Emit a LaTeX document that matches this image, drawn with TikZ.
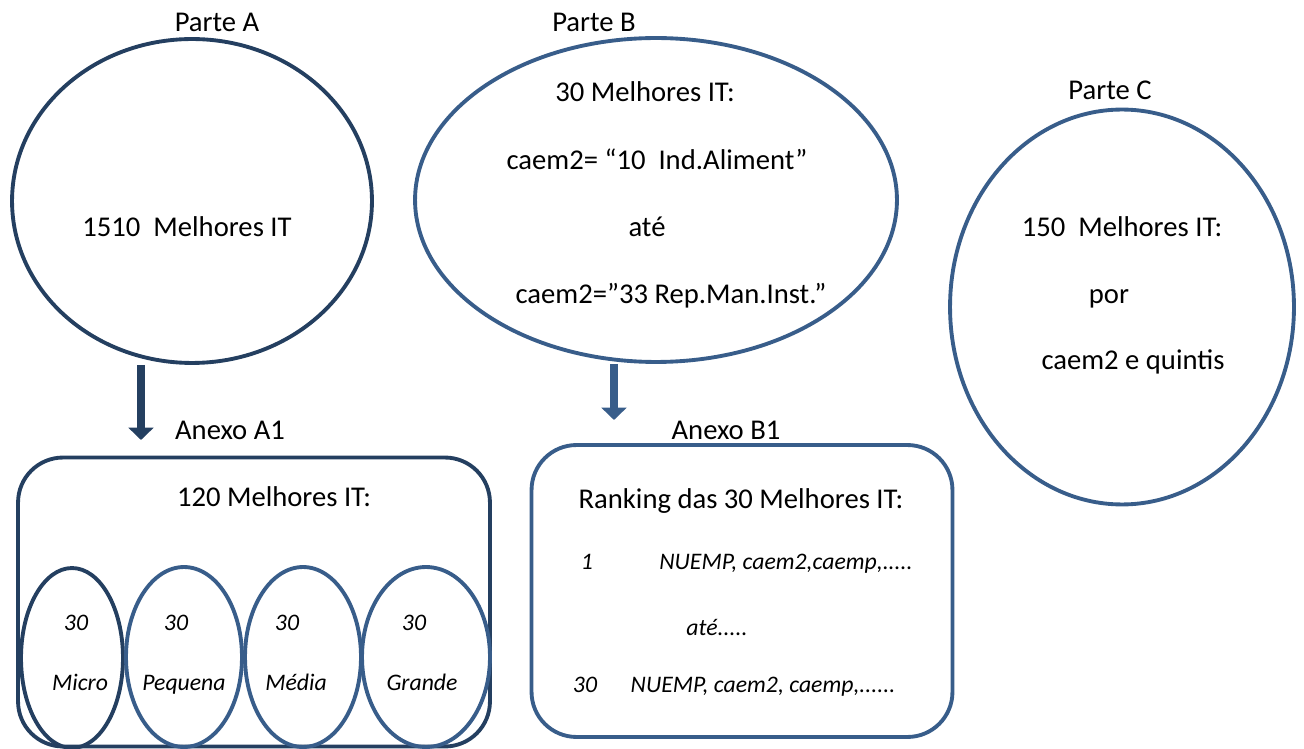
\documentclass[tikz,border=0pt]{standalone}
\usepackage{fontspec}
\setmainfont{Carlito}
\usetikzlibrary{positioning, shapes.geometric, arrows.meta}

\definecolor{navy}{HTML}{243F60}
\definecolor{steel}{HTML}{385D8A}

\tikzset{
	oval/.style={draw=steel, line width=2.2pt, ellipse, inner sep=0pt},
	panel/.style={draw=steel, line width=2.2pt, rectangle, rounded corners=0.9cm, inner sep=0pt},
	bigtxt/.style={font=\fontsize{16.3}{19}\selectfont, inner sep=0pt, text height=11pt, text depth=0pt},
	smalltxt/.style={font=\fontsize{13.5}{16}\selectfont\itshape, inner sep=0pt, text height=9pt, text depth=0pt},
	downarrow/.style={line width=5pt, -{Triangle[width=14pt,length=7pt]}},
}

\begin{document}
\begin{tikzpicture}[x=0.02cm, y=-0.02cm]
		\useasboundingbox (0,0) rectangle (1304,749);

		% Parte A
		\node[oval, draw=navy, minimum width=7.2cm, minimum height=6.48cm] (partA) at (192,201) {};
		\node[bigtxt] (partAlbl) at (217,22) {Parte A};
		\node[bigtxt] (best1510) at (187,227) {1510~ Melhores IT};

		% Parte B
		\node[oval, minimum width=9.64cm, minimum height=6.48cm] (partB) at (656,200) {};
		\node[bigtxt] (partBlbl) at (594,22) {Parte B};
		\node[bigtxt] (best30) at (645,92) {30 Melhores IT:};
		\node[bigtxt] (caemfrom) at (657,160) {caem2= “10~ Ind.Aliment”};
		\node[bigtxt] (ateB) at (647,227) {até};
		\node[bigtxt] (caemto) at (671,294) {caem2=”33 Rep.Man.Inst.”};

		% Parte C
		\node[oval, minimum width=6.88cm, minimum height=7.9cm] (partC) at (1122,307) {};
		\node[bigtxt] (partClbl) at (1110,90) {Parte C};
		\node[bigtxt] (best150) at (1122,227) {150~ Melhores IT:};
		\node[bigtxt] (porC) at (1109,294) {por};
		\node[bigtxt] (quintis) at (1133,360) {caem2 e quintis};

		% Anexo A1
		\coordinate (tipA) at (141,440);
		\draw[downarrow, color=navy] (tipA |- partA.south) -- (tipA);
		\node[bigtxt] (anexoAlbl) at (230,430) {Anexo A1};
		\node[panel, draw=navy, minimum width=9.44cm, minimum height=5.78cm] (anexoA) at (254,602) {};
		\node[bigtxt] (best120) at (274,497) {120 Melhores IT:};

		\node[oval, draw=navy, minimum width=2.04cm, minimum height=3.6cm] (micro) at (72,658) {};
		\node[oval, minimum width=2.32cm, minimum height=3.6cm] (pequena) at (184,657) {};
		\node[oval, minimum width=2.32cm, minimum height=3.6cm] (media) at (303,657) {};
		\node[oval, minimum width=2.56cm, minimum height=3.6cm] (grande) at (426,657) {};

		\node[smalltxt] (microN) at (76,623) {30};
		\node[smalltxt] (microL) at (80,683) {Micro};
		\node[smalltxt] (pequenaN) at (176,623) {30};
		\node[smalltxt] (pequenaL) at (184,683) {Pequena};
		\node[smalltxt] (mediaN) at (287,623) {30};
		\node[smalltxt] (mediaL) at (296,683) {Média};
		\node[smalltxt] (grandeN) at (414,623) {30};
		\node[smalltxt] (grandeL) at (422,683) {Grande};

		% Anexo B1
		\coordinate (tipB) at (614,420);
		\draw[downarrow, color=steel] (tipB |- partB.south) -- (tipB);
		\node[bigtxt] (anexoBlbl) at (726,430) {Anexo B1};
		\node[panel, minimum width=8.42cm, minimum height=5.84cm] (anexoB) at (742,591) {};
		\node[bigtxt] (ranking) at (741,499) {Ranking das 30 Melhores IT:};

		\node[smalltxt] (rankfirst) at (587,562) {1};
		\node[smalltxt] (varsfirst) at (786,562) {NUEMP, caem2,caemp,.....};
		\node[smalltxt] (ateA) at (717,628) {até.....};
		\node[smalltxt] (ranklast) at (585,685) {30};
		\node[smalltxt] (varslast) at (763,685) {NUEMP, caem2, caemp,......};

	\end{tikzpicture}
\end{document}
